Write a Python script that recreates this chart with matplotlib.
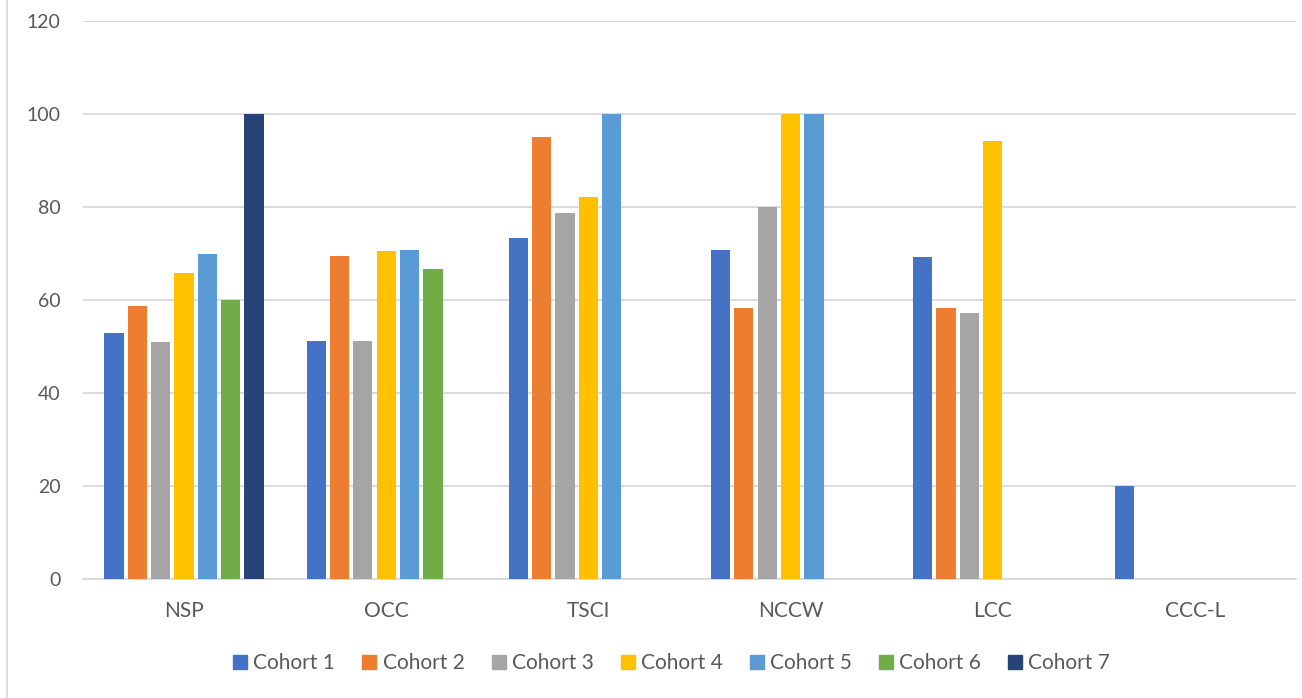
import numpy as np
import matplotlib.pyplot as plt
from matplotlib.lines import Line2D

categories = ['NSP', 'OCC', 'TSCI', 'NCCW', 'LCC', 'CCC-L']
cohorts = ['Cohort 1', 'Cohort 2', 'Cohort 3', 'Cohort 4', 'Cohort 5', 'Cohort 6', 'Cohort 7']
colors = ['#4472C4', '#ED7D31', '#A5A5A5', '#FFC000', '#5B9BD5', '#70AD47', '#264478']

# one list per cohort, None where there is no bar
cohort1 = [53, 51.2, 73.3, 70.8, 69.3, 20]
cohort2 = [58.8, 69.4, 95.1, 58.3, 58.3, None]
cohort3 = [51, 51.2, 78.6, 80, 57.1, None]
cohort4 = [65.8, 70.6, 82.1, 100, 94.2, None]
cohort5 = [69.8, 70.8, 100, 100, None, None]
cohort6 = [60, 66.7, None, None, None, None]
cohort7 = [100, None, None, None, None, None]
series = [cohort1, cohort2, cohort3, cohort4, cohort5, cohort6, cohort7]

plt.rcParams['font.family'] = ['Lato', 'DejaVu Sans']
txt = '#595959'

fig = plt.figure(figsize=(13.02, 6.98), dpi=100)
ax = fig.add_axes([0.0637, 0.1705, 0.9317, 0.7995])

x = np.arange(len(categories))
slot = 0.1155
for i, (vals, c, name) in enumerate(zip(series, colors, cohorts)):
    xs = [xi + (i - 3) * slot for xi, v in zip(x, vals) if v is not None]
    ys = [v for v in vals if v is not None]
    ax.bar(xs, ys, width=0.095, color=c, label=name, zorder=3)

ax.set_xlim(-0.5, len(categories) - 0.5)
ax.set_ylim(0, 120)
ax.set_yticks(range(0, 121, 20))
ax.set_xticks(x)
ax.set_xticklabels(categories)
ax.grid(axis='y', color='#D9D9D9', linewidth=1.3, zorder=0)
for s in ['top', 'right', 'left']:
    ax.spines[s].set_visible(False)
ax.spines['bottom'].set_color('#D9D9D9')
ax.spines['bottom'].set_linewidth(1.3)
ax.tick_params(axis='both', length=0, colors=txt)
ax.tick_params(axis='y', pad=16, labelsize=14)
ax.tick_params(axis='x', pad=16, labelsize=15)

handles = [plt.Rectangle((0, 0), 1, 1, color=c) for c in colors]
fig.legend(handles, cohorts, loc='center', bbox_to_anchor=(0.516, 0.05), ncol=7,
           frameon=False, fontsize=15, labelcolor=txt, handlelength=0.67,
           handleheight=0.67, handletextpad=0.3, columnspacing=1.3)

fig.add_artist(Line2D([7 / 1302, 7 / 1302], [0, 1], color='#D9D9D9', linewidth=1.3))

fig.savefig('out.png', dpi=100)
